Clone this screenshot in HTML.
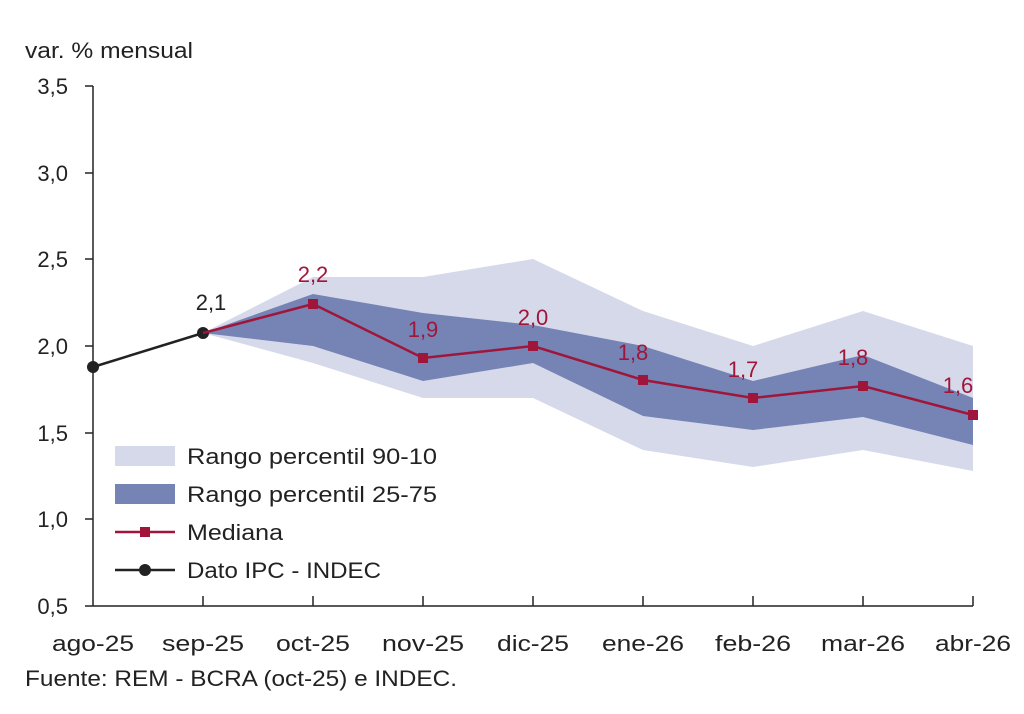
<!DOCTYPE html>
<html><head><meta charset="utf-8"><style>
body{margin:0;background:#fff;}
svg{display:block;font-family:"Liberation Sans",sans-serif;}
</style></head><body>
<svg width="1024" height="714" viewBox="0 0 1024 714" xmlns="http://www.w3.org/2000/svg">
<rect width="1024" height="714" fill="#fff"/>
<text x="25" y="58" font-size="22" fill="#222" textLength="168" lengthAdjust="spacingAndGlyphs">var. % mensual</text>
<polygon fill="#d6d9ea" points="203,333 313,277 423,277 533,259 643,311 753,346 863,311 973,346 973,471 863,450 753,467 643,450 533,398 423,398 313,363"/>
<polygon fill="#7584b4" points="203,333 313,294 423,313 533,325 643,346 753,381 863,355 973,398 973,445 863,417 753,430 643,416 533,363 423,381 313,346"/>
<g stroke="#222" stroke-width="1.5">
<line x1="93" y1="86" x2="93" y2="606"/>
<line x1="93" y1="606" x2="973" y2="606"/>
<line x1="85" y1="86" x2="93" y2="86"/><line x1="85" y1="173" x2="93" y2="173"/><line x1="85" y1="259" x2="93" y2="259"/><line x1="85" y1="346" x2="93" y2="346"/><line x1="85" y1="433" x2="93" y2="433"/><line x1="85" y1="519" x2="93" y2="519"/><line x1="85" y1="606" x2="93" y2="606"/>
<line x1="203" y1="596" x2="203" y2="606"/><line x1="313" y1="596" x2="313" y2="606"/><line x1="423" y1="596" x2="423" y2="606"/><line x1="533" y1="596" x2="533" y2="606"/><line x1="643" y1="596" x2="643" y2="606"/><line x1="753" y1="596" x2="753" y2="606"/><line x1="863" y1="596" x2="863" y2="606"/><line x1="973" y1="596" x2="973" y2="606"/>
</g>
<g font-size="22" fill="#222" text-anchor="end">
<text x="68" y="94">3,5</text><text x="68" y="181">3,0</text><text x="68" y="267">2,5</text><text x="68" y="354">2,0</text><text x="68" y="441">1,5</text><text x="68" y="527">1,0</text><text x="68" y="614">0,5</text>
</g>
<g font-size="22" fill="#222" text-anchor="middle">
<text x="93" y="651" textLength="82" lengthAdjust="spacingAndGlyphs">ago-25</text>
<text x="203" y="651" textLength="82" lengthAdjust="spacingAndGlyphs">sep-25</text>
<text x="313" y="651" textLength="74" lengthAdjust="spacingAndGlyphs">oct-25</text>
<text x="423" y="651" textLength="82" lengthAdjust="spacingAndGlyphs">nov-25</text>
<text x="533" y="651" textLength="72" lengthAdjust="spacingAndGlyphs">dic-25</text>
<text x="643" y="651" textLength="82" lengthAdjust="spacingAndGlyphs">ene-26</text>
<text x="753" y="651" textLength="76" lengthAdjust="spacingAndGlyphs">feb-26</text>
<text x="863" y="651" textLength="84" lengthAdjust="spacingAndGlyphs">mar-26</text>
<text x="973" y="651" textLength="76" lengthAdjust="spacingAndGlyphs">abr-26</text>
</g>
<text x="25" y="686" font-size="22" fill="#222" textLength="432" lengthAdjust="spacingAndGlyphs">Fuente: REM - BCRA (oct-25) e INDEC.</text>
<polyline points="93,367 203,333" fill="none" stroke="#222" stroke-width="2.5"/>
<circle cx="93" cy="367" r="6" fill="#222"/><circle cx="203" cy="333" r="6" fill="#222"/>
<text x="211" y="310" font-size="22" fill="#222" text-anchor="middle">2,1</text>
<polyline points="203,333 313,304 423,358 533,346 643,380 753,398 863,386 973,415" fill="none" stroke="#a0163a" stroke-width="2.5"/>
<g fill="#a0163a">
<rect x="308" y="299" width="10" height="10"/><rect x="418" y="353" width="10" height="10"/><rect x="528" y="341" width="10" height="10"/><rect x="638" y="375" width="10" height="10"/><rect x="748" y="393" width="10" height="10"/><rect x="858" y="381" width="10" height="10"/><rect x="968" y="410" width="10" height="10"/>
</g>
<g font-size="22" fill="#a0163a" text-anchor="middle">
<text x="313" y="282">2,2</text><text x="423" y="337">1,9</text><text x="533" y="325">2,0</text><text x="633" y="360">1,8</text><text x="743" y="377">1,7</text><text x="853" y="365">1,8</text><text x="958" y="393">1,6</text>
</g>
<rect x="115" y="446" width="60" height="20" fill="#d6d9ea"/>
<rect x="115" y="484" width="60" height="20" fill="#7584b4"/>
<line x1="115" y1="532" x2="175" y2="532" stroke="#a0163a" stroke-width="2.5"/><rect x="140" y="527" width="10" height="10" fill="#a0163a"/>
<line x1="115" y1="570" x2="175" y2="570" stroke="#222" stroke-width="2.5"/><circle cx="145" cy="570" r="6" fill="#222"/>
<g font-size="22" fill="#222">
<text x="187" y="464" textLength="250" lengthAdjust="spacingAndGlyphs">Rango percentil 90-10</text>
<text x="187" y="502" textLength="250" lengthAdjust="spacingAndGlyphs">Rango percentil 25-75</text>
<text x="187" y="540" textLength="96" lengthAdjust="spacingAndGlyphs">Mediana</text>
<text x="187" y="578" textLength="194" lengthAdjust="spacingAndGlyphs">Dato IPC - INDEC</text>
</g>
</svg>
</body></html>
